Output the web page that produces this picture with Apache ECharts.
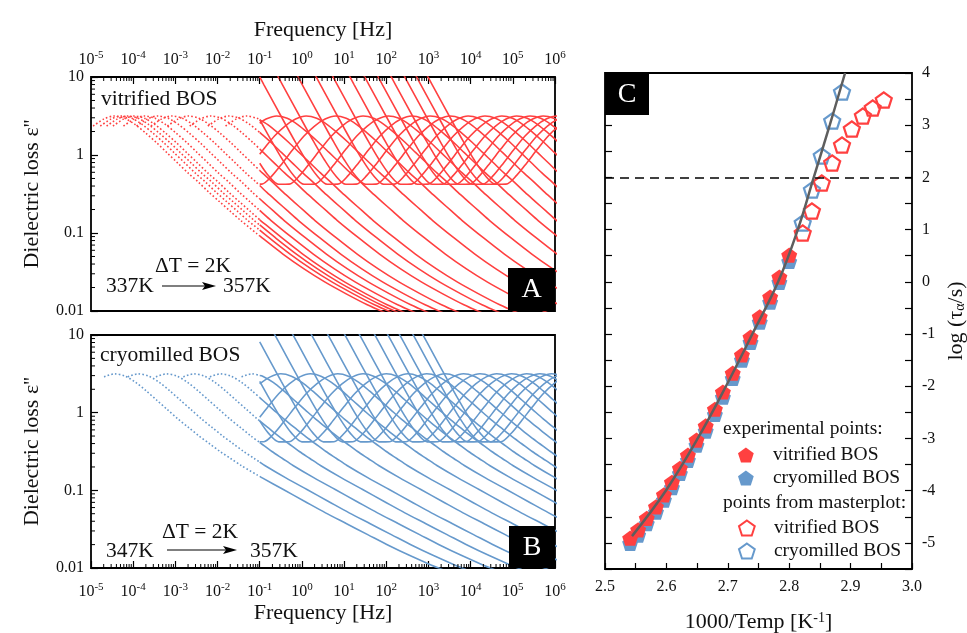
<!DOCTYPE html>
<html>
<head>
<meta charset="utf-8">
<script src="https://cdn.jsdelivr.net/npm/echarts@6/dist/echarts.min.js"></script>
<style>
  html, body { margin: 0; padding: 0; background: #fff; }
  #chart { width: 967px; height: 633px; }
</style>
</head>
<body>
<div id="chart"></div>
<script>
// ---------------- data ----------------
// frequency axis: decades of log10(f / Hz); loss axis: decades of log10(eps'')
const freqDecades = [-5, -4, -3, -2, -1, 0, 1, 2, 3, 4, 5, 6];
const lossDecades = [-2, -1, 0, 1];

// alpha-loss master peak: [log f - log f_max, log eps'']
const peakShapeLowSide = [
  [-6, -4.20], [-5.5, -3.77], [-5, -3.35], [-4.5, -2.92], [-4, -2.50], [-3.5, -2.07], [-3, -1.65],
  [-2.75, -1.43], [-2.5, -1.21], [-2.25, -0.99], [-2, -0.77], [-1.75, -0.55], [-1.5, -0.33],
  [-1.25, -0.12], [-1, 0.07], [-0.75, 0.24], [-0.5, 0.37], [-0.25, 0.46], [0, 0.50]
];
const peakShapeHighVitrified = [
  [0, 0.50], [0.25, 0.47], [0.5, 0.39], [0.75, 0.28], [1, 0.16], [1.25, 0.03], [1.5, -0.10], [1.75, -0.23],
  [2, -0.35], [2.25, -0.48], [2.5, -0.60], [2.75, -0.72], [3, -0.84], [3.5, -1.06], [4, -1.27], [4.5, -1.46],
  [5, -1.63], [5.5, -1.78], [6, -1.92], [6.5, -2.04], [7, -2.15], [7.5, -2.25], [8, -2.35], [9, -2.55],
  [10, -2.75], [11, -2.95]
];
const peakShapeHighCryo = [
  [0, 0.50], [0.25, 0.47], [0.5, 0.39], [0.75, 0.28], [1, 0.16], [1.25, 0.04], [1.5, -0.08], [1.75, -0.19],
  [2, -0.30], [2.25, -0.40], [2.5, -0.50], [2.75, -0.59], [3, -0.68], [3.5, -0.84], [4, -0.99], [4.5, -1.14],
  [5, -1.29], [5.5, -1.43], [6, -1.57], [6.5, -1.71], [7, -1.84], [7.5, -1.96], [8, -2.07], [9, -2.30],
  [10, -2.50], [11, -2.70]
];

// vitrified BOS: log10 of the loss-peak frequency for each temperature,
// and log10 of the frequency where the dc-conduction branch reaches eps'' = 10
const vitrifiedPeakLogF = [-4.45, -4.28, -4.13, -3.98, -3.73, -3.42, -3.08, -2.69, -2.16, -1.73, -1.31,
  -0.60, 0.10, 0.80, 1.45, 2.05,
  2.60, 3.04, 3.51, 3.94, 4.34, 4.74, 5.09, 5.41, 5.72, 6.04, 6.32, 6.59];
const vitrifiedDcLogF = [null, null, null, null, null, null, null, null, null, null, null,
  -4.20, -3.50, -2.80, -2.15, -1.55,
  -1.00, -0.56, -0.09, 0.34, 0.74, 1.14, 1.49, 1.81, 2.12, 2.44, 2.72, 2.99];
const vitrifiedMasterCount = 11;      // 337 K ... 357 K, extended below 0.1 Hz
const vitrifiedMasterStart = -0.5;    // extension begins this many decades below the peak

// cryomilled BOS
const cryoPeakLogF = [-4.44, -3.88, -3.21, -2.56, -1.93, -1.18,
  -0.50, 0.20, 0.85, 1.45, 2.00,
  2.51, 2.96, 3.39, 3.83, 4.22, 4.62, 4.97, 5.33, 5.64, 5.92, 6.24, 6.47];
const cryoDcLogF = [null, null, null, null, null, null,
  -4.10, -3.40, -2.75, -2.15, -1.60,
  -1.09, -0.64, -0.21, 0.23, 0.62, 1.02, 1.37, 1.73, 2.04, 2.32, 2.64, 2.87];
const cryoMasterCount = 6;            // 347 K ... 357 K
const cryoMasterStart = -0.25;

// relaxation map: 1000/T [1/K] and log(tau_alpha / s)
const vitrifiedInvT   = [2.800, 2.784, 2.769, 2.752, 2.737, 2.723, 2.708, 2.692, 2.679, 2.664,
  2.649, 2.635, 2.622, 2.609, 2.596, 2.583, 2.568, 2.554, 2.541];
const vitrifiedLogTau = [0.51, 0.09, -0.29, -0.67, -1.06, -1.40, -1.75, -2.11, -2.44, -2.76,
  -3.03, -3.32, -3.57, -3.84, -4.08, -4.31, -4.53, -4.75, -4.91];
const cryoInvT   = [2.800, 2.784, 2.769, 2.752, 2.737, 2.723, 2.708, 2.692, 2.679, 2.664,
  2.649, 2.635, 2.622, 2.609, 2.596, 2.583, 2.568, 2.554, 2.541];
const cryoLogTau = [0.39, -0.01, -0.39, -0.77, -1.16, -1.50, -1.85, -2.21, -2.54, -2.86,
  -3.13, -3.42, -3.67, -3.94, -4.18, -4.41, -4.63, -4.85, -5.01];
const vitrifiedMasterInvT   = [2.822, 2.837, 2.853, 2.870, 2.886, 2.902, 2.920, 2.936, 2.954];
const vitrifiedMasterLogTau = [0.935, 1.356, 1.893, 2.276, 2.621, 2.927, 3.176, 3.330, 3.483];
const cryoMasterInvT   = [2.822, 2.837, 2.853, 2.870, 2.886];
const cryoMasterLogTau = [1.126, 1.759, 2.410, 3.080, 3.636];
const vftInvT   = [2.544, 2.599, 2.651, 2.697, 2.740, 2.782, 2.814, 2.840, 2.866, 2.891];
const vftLogTau = [-4.87, -4.00, -3.00, -2.00, -1.00, 0.00, 1.00, 2.00, 3.00, 4.00];
const glassLogTau = 2;

// ---------------- styling ----------------
const SERIF = '"Liberation Serif", "Times New Roman", serif';
const INK = '#111';
const RED = '#FF4040';
const BLUE = '#6699CC';
const GREY = '#5E5E5E';
const PENTAGON = 'path://M0,-1L0.951,-0.309L0.588,0.809L-0.588,0.809L-0.951,-0.309Z';

// ---------------- helpers ----------------
function lossCurve(peak, dc, highSide, fromOffset) {
  const shape = peakShapeLowSide.filter(p => p[0] >= fromOffset).concat(highSide.slice(1));
  return shape.map(([d, e]) => {
    const lf = peak + d;
    let v = Math.pow(10, e);
    if (dc !== null) v += Math.pow(10, 1 - (lf - dc));
    return [lf, Math.log10(v)];
  });
}
function splitAt(pts, x0) {
  const lo = [], hi = [];
  for (let i = 0; i < pts.length; i++) {
    const p = pts[i], q = pts[i + 1];
    if (p[0] <= x0) lo.push(p);
    if (p[0] >= x0) hi.push(p);
    if (q && p[0] < x0 && q[0] > x0) {
      const t = (x0 - p[0]) / (q[0] - p[0]);
      const b = [x0, p[1] + t * (q[1] - p[1])];
      lo.push(b); hi.push(b);
    }
  }
  return { lo, hi };
}
function spectraSeries(axisIdx, peaks, dcs, masterCount, masterStart, highSide, color) {
  const out = [];
  peaks.forEach((fp, i) => {
    const isMaster = i < masterCount;
    const parts = splitAt(lossCurve(fp, dcs[i], highSide, isMaster ? masterStart : -99), -1);
    if (isMaster && parts.lo.length > 1) {
      out.push({
        type: 'line', xAxisIndex: axisIdx, yAxisIndex: axisIdx, data: parts.lo,
        symbol: 'none', smooth: 0.3, silent: true, z: 2,
        lineStyle: { color, width: 1.6, type: [1.6, 2.2] }
      });
    }
    out.push({
      type: 'line', xAxisIndex: axisIdx, yAxisIndex: axisIdx, data: parts.hi,
      symbol: 'none', smooth: 0.3, silent: true, z: 2,
      lineStyle: { color, width: 1.6 }
    });
  });
  return out;
}
function minorTicks(xi, yi, pts, dx, dy) {
  return {
    type: 'custom', xAxisIndex: xi, yAxisIndex: yi, silent: true, clip: false, z: 6,
    data: pts,
    renderItem: (params, api) => {
      const p = api.coord([api.value(0), api.value(1)]);
      return { type: 'line', shape: { x1: p[0], y1: p[1], x2: p[0] + dx, y2: p[1] + dy },
               style: { stroke: '#000', lineWidth: 1 } };
    }
  };
}
const minorFreq = [];
freqDecades.slice(0, -1).forEach(n => { for (let m = 2; m <= 9; m++) minorFreq.push(n + Math.log10(m)); });
const minorLoss = [];
lossDecades.slice(0, -1).forEach(n => { for (let m = 2; m <= 9; m++) minorLoss.push(n + Math.log10(m)); });

const decadeRich = {
  b: { fontFamily: SERIF, fontSize: 16, color: INK, lineHeight: 19 },
  e: { fontFamily: SERIF, fontSize: 11, color: INK, verticalAlign: 'top', lineHeight: 12 }
};
const decadeLabel = v => '{b|10}{e|' + v + '}';
const lossLabel = v => (v < 0 ? Math.pow(10, v).toFixed(-v) : String(Math.round(Math.pow(10, v))));
const nameStyle = { fontFamily: SERIF, fontSize: 22, color: INK };
const labelStyle = { fontFamily: SERIF, fontSize: 16, color: INK };
const hiddenLine = { show: false, onZero: false };

function freqAxis(gi, pos, margin, gap) {
  return {
    gridIndex: gi, type: 'value', position: pos,
    min: freqDecades[0], max: freqDecades[freqDecades.length - 1], interval: 1,
    axisLine: hiddenLine,
    axisTick: { show: true, inside: true, length: 7, lineStyle: { color: '#000', width: 1.2 } },
    axisLabel: { show: true, margin, formatter: decadeLabel, rich: decadeRich },
    splitLine: { show: false },
    name: 'Frequency [Hz]', nameLocation: 'middle', nameGap: gap, nameTextStyle: nameStyle
  };
}
function lossAxis(gi) {
  return {
    gridIndex: gi, type: 'value', min: lossDecades[0], max: lossDecades[lossDecades.length - 1], interval: 1,
    axisLine: hiddenLine,
    axisTick: { show: true, inside: true, length: 7, lineStyle: { color: '#000', width: 1.2 } },
    axisLabel: Object.assign({ margin: 7, formatter: lossLabel }, labelStyle),
    splitLine: { show: false },
    name: "Dielectric loss \u03b5''", nameLocation: 'middle', nameGap: 48, nameTextStyle: nameStyle
  };
}

const zip = (a, b) => a.map((v, i) => [v, b[i]]);
const legendText = {
  'vit-exp': 'vitrified BOS', 'cryo-exp': 'cryomilled BOS',
  'vit-master': 'vitrified BOS', 'cryo-master': 'cryomilled BOS'
};
const legendBase = {
  orient: 'vertical', left: 733, itemWidth: 16, itemHeight: 15, itemGap: 3, selectedMode: false,
  formatter: n => legendText[n],
  textStyle: { fontFamily: SERIF, fontSize: 19.5, color: INK, padding: [0, 0, 0, 14] }
};

// ---------------- option ----------------
const frame = { show: true, borderColor: '#000', borderWidth: 1.8, backgroundColor: 'transparent',
  containLabel: false, outerBoundsMode: 'none' };
const option = {
  animation: false,
  backgroundColor: '#fff',
  grid: [
    Object.assign({ left: 91, top: 77, width: 464, height: 234 }, frame),
    Object.assign({ left: 91, top: 335, width: 464, height: 233 }, frame),
    Object.assign({ left: 605, top: 73, width: 307, height: 496 }, frame)
  ],
  xAxis: [
    freqAxis(0, 'top', 8, 36),
    freqAxis(1, 'bottom', 14, 34),
    {
      gridIndex: 2, type: 'value', min: 2.5, max: 3.0, interval: 0.05,
      axisLine: hiddenLine,
      axisTick: { inside: true, length: 6, lineStyle: { color: '#000', width: 1.2 } },
      axisLabel: Object.assign({ margin: 10,
        formatter: v => (Math.abs(v * 10 - Math.round(v * 10)) < 1e-6 ? v.toFixed(1) : '') }, labelStyle),
      splitLine: { show: false },
      name: '1000/Temp [K{s|-1}]', nameLocation: 'middle', nameGap: 42,
      nameTextStyle: Object.assign({ rich: { s: { fontFamily: SERIF, fontSize: 14, color: INK, verticalAlign: 'top', lineHeight: 13 } } }, nameStyle)
    }
  ],
  yAxis: [
    lossAxis(0),
    lossAxis(1),
    {
      gridIndex: 2, type: 'value', position: 'right', min: -5.5, max: 4, interval: 0.5,
      axisLine: hiddenLine,
      axisTick: { inside: true, length: 7, lineStyle: { color: '#000', width: 1.2 } },
      axisLabel: Object.assign({ margin: 10,
        formatter: v => (Math.abs(v - Math.round(v)) < 1e-6 ? String(Math.round(v)) : '') }, labelStyle),
      splitLine: { show: false },
      name: 'log (\u03c4{a|\u03b1}/s)', nameLocation: 'middle', nameGap: 33,
      nameTextStyle: Object.assign({ rich: { a: { fontFamily: SERIF, fontSize: 14, color: INK, verticalAlign: 'bottom', lineHeight: 16 } } }, nameStyle)
    },
    {
      gridIndex: 2, type: 'value', position: 'left', min: -5.5, max: 4, interval: 0.5,
      axisLine: hiddenLine,
      axisTick: { inside: true, length: 7, lineStyle: { color: '#000', width: 1.2 } },
      axisLabel: { show: false }, splitLine: { show: false }
    }
  ],
  legend: [
    Object.assign({ data: ['vit-exp', 'cryo-exp'], top: 440 }, legendBase),
    Object.assign({ data: ['vit-master', 'cryo-master'], top: 513 }, legendBase)
  ],
  series: [].concat(
    spectraSeries(0, vitrifiedPeakLogF, vitrifiedDcLogF, vitrifiedMasterCount, vitrifiedMasterStart, peakShapeHighVitrified, RED),
    spectraSeries(1, cryoPeakLogF, cryoDcLogF, cryoMasterCount, cryoMasterStart, peakShapeHighCryo, BLUE),
    [
      minorTicks(0, 0, minorFreq.map(v => [v, lossDecades[lossDecades.length - 1]]), 0, 4),
      minorTicks(0, 0, minorLoss.map(v => [freqDecades[0], v]), 4, 0),
      minorTicks(1, 1, minorFreq.map(v => [v, lossDecades[0]]), 0, -4),
      minorTicks(1, 1, minorLoss.map(v => [freqDecades[0], v]), 4, 0),
      {
        type: 'scatter', name: 'cryo-exp', xAxisIndex: 2, yAxisIndex: 2, z: 3,
        data: zip(cryoInvT, cryoLogTau), symbol: PENTAGON, symbolSize: [16, 15.2],
        itemStyle: { color: BLUE, opacity: 1 }
      },
      {
        type: 'scatter', name: 'vit-exp', xAxisIndex: 2, yAxisIndex: 2, z: 3,
        data: zip(vitrifiedInvT, vitrifiedLogTau), symbol: PENTAGON, symbolSize: [16, 15.2],
        itemStyle: { color: RED, opacity: 1 }
      },
      {
        type: 'scatter', name: 'cryo-master', xAxisIndex: 2, yAxisIndex: 2, z: 3,
        data: zip(cryoMasterInvT, cryoMasterLogTau), symbol: PENTAGON, symbolSize: [16, 15.2],
        itemStyle: { color: 'rgba(255,255,255,0)', borderColor: BLUE, borderWidth: 2.2, opacity: 1 }
      },
      {
        type: 'scatter', name: 'vit-master', xAxisIndex: 2, yAxisIndex: 2, z: 3,
        data: zip(vitrifiedMasterInvT, vitrifiedMasterLogTau), symbol: PENTAGON, symbolSize: [16, 15.2],
        itemStyle: { color: 'rgba(255,255,255,0)', borderColor: RED, borderWidth: 2.2, opacity: 1 }
      },
      {
        type: 'line', name: 'VFT', xAxisIndex: 2, yAxisIndex: 2, z: 4,
        data: zip(vftInvT, vftLogTau), symbol: 'none', smooth: 0.4, silent: true,
        lineStyle: { color: GREY, width: 2.5 },
        markLine: {
          silent: true, symbol: 'none', label: { show: false },
          lineStyle: { color: '#000', width: 1.5, type: [9, 6] },
          data: [{ yAxis: glassLogTau }]
        }
      }
    ]
  ),
  graphic: [
    // panel annotations
    { type: 'text', x: 101, y: 99, z: 10, style: { text: 'vitrified BOS', font: '21.5px ' + SERIF, fill: INK, verticalAlign: 'middle' } },
    { type: 'text', x: 155, y: 266, z: 10, style: { text: '\u0394T = 2K', font: '21.5px ' + SERIF, fill: INK, verticalAlign: 'middle' } },
    { type: 'text', x: 106, y: 286, z: 10, style: { text: '337K', font: '21.5px ' + SERIF, fill: INK, verticalAlign: 'middle' } },
    { type: 'text', x: 223, y: 286, z: 10, style: { text: '357K', font: '21.5px ' + SERIF, fill: INK, verticalAlign: 'middle' } },
    { type: 'line', z: 10, shape: { x1: 162, y1: 286, x2: 206, y2: 286 }, style: { stroke: '#000', lineWidth: 1.2 } },
    { type: 'polygon', z: 10, shape: { points: [[202, 282], [216, 286], [202, 290], [205, 286]] }, style: { fill: '#000' } },

    { type: 'text', x: 100, y: 355, z: 10, style: { text: 'cryomilled BOS', font: '21.5px ' + SERIF, fill: INK, verticalAlign: 'middle' } },
    { type: 'text', x: 162, y: 532, z: 10, style: { text: '\u0394T = 2K', font: '21.5px ' + SERIF, fill: INK, verticalAlign: 'middle' } },
    { type: 'text', x: 106, y: 551, z: 10, style: { text: '347K', font: '21.5px ' + SERIF, fill: INK, verticalAlign: 'middle' } },
    { type: 'text', x: 250, y: 551, z: 10, style: { text: '357K', font: '21.5px ' + SERIF, fill: INK, verticalAlign: 'middle' } },
    { type: 'line', z: 10, shape: { x1: 167, y1: 550, x2: 228, y2: 550 }, style: { stroke: '#000', lineWidth: 1.2 } },
    { type: 'polygon', z: 10, shape: { points: [[223, 546], [237, 550], [223, 554], [226, 550]] }, style: { fill: '#000' } },

    // panel tags
    { type: 'rect', z: 10, shape: { x: 508, y: 268, width: 47, height: 43 }, style: { fill: '#000' } },
    { type: 'text', z: 11, x: 531.5, y: 290, style: { text: 'A', font: '28px ' + SERIF, fill: '#fff', align: 'center', verticalAlign: 'middle' } },
    { type: 'rect', z: 10, shape: { x: 509, y: 526, width: 46, height: 42 }, style: { fill: '#000' } },
    { type: 'text', z: 11, x: 532, y: 547.5, style: { text: 'B', font: '28px ' + SERIF, fill: '#fff', align: 'center', verticalAlign: 'middle' } },
    { type: 'rect', z: 10, shape: { x: 605, y: 73, width: 44, height: 42 }, style: { fill: '#000' } },
    { type: 'text', z: 11, x: 627, y: 94.5, style: { text: 'C', font: '28px ' + SERIF, fill: '#fff', align: 'center', verticalAlign: 'middle' } },

    // legend headings
    { type: 'text', x: 723, y: 429, z: 10, style: { text: 'experimental points:', font: '19.5px ' + SERIF, fill: INK, verticalAlign: 'middle' } },
    { type: 'text', x: 723, y: 503, z: 10, style: { text: 'points from masterplot:', font: '19.5px ' + SERIF, fill: INK, verticalAlign: 'middle' } }
  ]
};

const chart = echarts.init(document.getElementById('chart'), null, { renderer: 'canvas' });
chart.setOption(option);
</script>
</body>
</html>
